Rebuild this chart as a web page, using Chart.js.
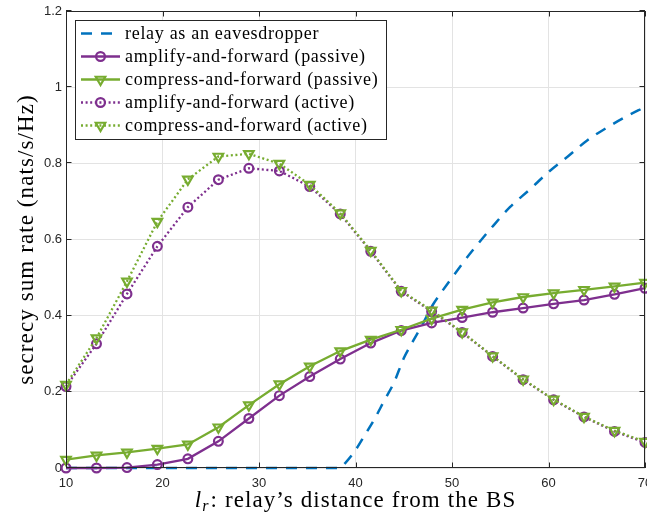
<!DOCTYPE html>
<html>
<head>
<meta charset="utf-8">
<script src="https://cdn.jsdelivr.net/npm/chart.js@4"></script>
<style>
  html, body { margin: 0; padding: 0; background: #ffffff; }
  #wrap { position: relative; width: 647px; height: 516px; }
</style>
</head>
<body>
<div id="wrap"><canvas id="c"></canvas></div>
<script>
// ---- data ----
const distances = [10, 13.16, 16.32, 19.47, 22.63, 25.79, 28.95, 32.11, 35.26, 38.42,
                   41.58, 44.74, 47.89, 51.05, 54.21, 57.37, 60.53, 63.68, 66.84, 70];
const afPassive = [0.000, 0.000, 0.001, 0.009, 0.024, 0.070, 0.130, 0.190, 0.240, 0.286,
                   0.328, 0.361, 0.381, 0.395, 0.409, 0.420, 0.431, 0.441, 0.456, 0.472];
const cfPassive = [0.022, 0.033, 0.041, 0.051, 0.062, 0.107, 0.165, 0.220, 0.267, 0.307,
                   0.337, 0.363, 0.392, 0.416, 0.435, 0.449, 0.459, 0.468, 0.477, 0.487];
const afActive  = [0.214, 0.326, 0.457, 0.582, 0.685, 0.757, 0.787, 0.780, 0.739, 0.667,
                   0.569, 0.464, 0.411, 0.356, 0.293, 0.232, 0.179, 0.134, 0.096, 0.067];
const cfActive  = [0.219, 0.341, 0.490, 0.647, 0.758, 0.818, 0.825, 0.799, 0.744, 0.669,
                   0.571, 0.465, 0.414, 0.357, 0.294, 0.233, 0.180, 0.135, 0.098, 0.069];
const eveX = [10, 20, 30, 38.3, 39, 40, 41, 42, 43, 44, 45, 46, 47, 48, 49, 50,
              52, 54, 56, 58, 60, 62, 64, 66, 68, 70];
const eveY = [0, 0, 0, 0, 0.015, 0.047, 0.088, 0.13, 0.178, 0.225, 0.288, 0.335, 0.38, 0.428, 0.465, 0.50,
              0.567, 0.628, 0.685, 0.73, 0.777, 0.818, 0.86, 0.893, 0.922, 0.948];
const seriesLabels = ['relay as an eavesdropper', 'amplify-and-forward (passive)',
                      'compress-and-forward (passive)', 'amplify-and-forward (active)',
                      'compress-and-forward (active)'];
const xTicks = [10, 20, 30, 40, 50, 60, 70];
const yTicks = [0, 0.2, 0.4, 0.6, 0.8, 1, 1.2];
const xTitleMain = 'l';
const xTitleSub = 'r';
const xTitleRest = ': relay\u2019s distance from the BS';
const yTitle = 'secrecy sum rate (nats/s/Hz)';

// ---- styling ----
const BLUE = '#0072BD', PURPLE = '#7E2F8E', GREEN = '#77AC30', AXIS = '#262626';
const pts = (xs, ys) => xs.map((x, i) => ({ x: x, y: ys[i] }));

const datasets = [
  { label: seriesLabels[0], data: pts(eveX, eveY), borderColor: BLUE, borderWidth: 2.5,
    borderDash: [11, 9], pointRadius: 0, cubicInterpolationMode: 'monotone', order: 5 },
  { label: seriesLabels[1], data: pts(distances, afPassive), borderColor: PURPLE, borderWidth: 2.3,
    pointStyle: 'circle', pointRadius: 4.4, pointBorderWidth: 2.2, pointBorderColor: PURPLE,
    pointBackgroundColor: 'rgba(0,0,0,0)', order: 4 },
  { label: seriesLabels[2], data: pts(distances, cfPassive), borderColor: GREEN, borderWidth: 2.3,
    pointStyle: 'triangle', pointRotation: 180, pointRadius: 5.5, pointBorderWidth: 2.2, pointBorderColor: GREEN,
    pointBackgroundColor: 'rgba(0,0,0,0)', order: 3 },
  { label: seriesLabels[3], data: pts(distances, afActive), borderColor: PURPLE, borderWidth: 2.3,
    borderDash: [2, 2.6], pointStyle: 'circle', pointRadius: 4.4, pointBorderWidth: 2.2, pointBorderColor: PURPLE,
    pointBackgroundColor: 'rgba(0,0,0,0)', order: 2 },
  { label: seriesLabels[4], data: pts(distances, cfActive), borderColor: GREEN, borderWidth: 2.3,
    borderDash: [2, 2.6], pointStyle: 'triangle', pointRotation: 180, pointRadius: 5.5, pointBorderWidth: 2.2,
    pointBorderColor: GREEN, pointBackgroundColor: 'rgba(0,0,0,0)', order: 1 }
];
datasets.forEach(d => { d.fill = false; d.tension = 0; d.clip = false; d.showLine = true; });

const SERIF = '"Liberation Serif", "Times New Roman", serif';

function drawMarker(ctx, style, x, y, r, color) {
  ctx.save();
  ctx.strokeStyle = color; ctx.lineWidth = 2.2; ctx.setLineDash([]);
  ctx.beginPath();
  if (style === 'circle') {
    ctx.arc(x, y, r, 0, Math.PI * 2);
  } else {
    for (let k = 0; k < 3; k++) {
      const a = Math.PI / 2 + k * 2 * Math.PI / 3;
      const px = x + r * Math.cos(a), py = y + r * Math.sin(a);
      if (k === 0) ctx.moveTo(px, py); else ctx.lineTo(px, py);
    }
    ctx.closePath();
  }
  ctx.stroke();
  ctx.restore();
}

const decorPlugin = {
  id: 'decor',
  afterDatasetsDraw(chart) {
    const { ctx, chartArea: a, scales } = chart;
    const xs = scales.x, ys = scales.y;
    ctx.save();
    ctx.strokeStyle = AXIS; ctx.lineWidth = 1; ctx.setLineDash([]);
    ctx.strokeRect(Math.round(a.left) + 0.5, Math.round(a.top) + 0.5,
                   Math.round(a.right - a.left) - 1, Math.round(a.bottom - a.top) - 1);
    const TL = 5.5;
    ctx.beginPath();
    xTicks.forEach(v => {
      const px = Math.round(xs.getPixelForValue(v)) + 0.5;
      ctx.moveTo(px, a.bottom); ctx.lineTo(px, a.bottom - TL);
      ctx.moveTo(px, a.top); ctx.lineTo(px, a.top + TL);
    });
    yTicks.forEach(v => {
      const py = Math.round(ys.getPixelForValue(v)) - 0.5;
      ctx.moveTo(a.left, py); ctx.lineTo(a.left + TL, py);
      ctx.moveTo(a.right, py); ctx.lineTo(a.right - TL, py);
    });
    ctx.stroke();

    // legend
    const lx = 75.5, ly = 20.5, lw = 311, lh = 119;
    ctx.fillStyle = '#ffffff';
    ctx.fillRect(lx, ly, lw, lh);
    ctx.strokeStyle = AXIS; ctx.lineWidth = 1;
    ctx.strokeRect(lx, ly, lw, lh);
    const rows = [33.5, 56.5, 79.5, 102.5, 125.5];
    chart.data.datasets.forEach((d, i) => {
      const y = rows[i];
      ctx.save();
      ctx.strokeStyle = d.borderColor; ctx.lineWidth = d.borderWidth;
      ctx.setLineDash(d.borderDash || []);
      ctx.beginPath(); ctx.moveTo(81, y); ctx.lineTo(120, y); ctx.stroke();
      ctx.restore();
      if (d.pointRadius > 0) drawMarker(ctx, d.pointStyle, 100.5, y, d.pointRadius, d.borderColor);
      ctx.fillStyle = '#000000';
      ctx.font = '18px ' + SERIF;
      ctx.letterSpacing = '0.7px';
      ctx.textAlign = 'left'; ctx.textBaseline = 'middle';
      ctx.fillText(d.label, 125, y + 0.5);
    });
    ctx.letterSpacing = '0px';

    ctx.fillStyle = '#000000';
    ctx.save();
    ctx.translate(27, (a.top + a.bottom) / 2);
    ctx.rotate(-Math.PI / 2);
    ctx.font = '23px ' + SERIF;
    ctx.letterSpacing = '1.1px';
    ctx.textAlign = 'center'; ctx.textBaseline = 'middle';
    ctx.fillText(yTitle, 0, 0);
    ctx.restore();

    ctx.save();
    ctx.letterSpacing = '1.1px';
    ctx.textBaseline = 'alphabetic';
    const fMain = 'italic 23px ' + SERIF, fSub = 'italic 16px ' + SERIF, fRest = '23px ' + SERIF;
    ctx.font = fMain; const w1 = ctx.measureText(xTitleMain).width;
    ctx.font = fSub; const w2 = ctx.measureText(xTitleSub).width;
    ctx.font = fRest; const w3 = ctx.measureText(xTitleRest).width;
    const total = w1 + w2 + w3 + 1;
    let x0 = (a.left + a.right) / 2 - total / 2;
    const base = 507;
    ctx.textAlign = 'left';
    ctx.font = fMain; ctx.fillText(xTitleMain, x0, base); x0 += w1;
    ctx.font = fSub; ctx.fillText(xTitleSub, x0, base + 4); x0 += w2 + 1;
    ctx.font = fRest; ctx.fillText(xTitleRest, x0, base);
    ctx.restore();
    ctx.restore();
  }
};

new Chart(document.getElementById('c'), {
  type: 'line',
  data: { datasets: datasets },
  options: {
    responsive: true,
    maintainAspectRatio: false,
    animation: false,
    devicePixelRatio: 1,
    layout: { padding: { top: 11, right: 2, left: 0, bottom: 0 }, autoPadding: false },
    plugins: { legend: { display: false }, tooltip: { enabled: false } },
    scales: {
      x: {
        type: 'linear', min: 10, max: 70,
        afterBuildTicks: s => { s.ticks = xTicks.map(v => ({ value: v })); },
        afterFit: s => { s.height = 48; s.paddingLeft = 0; s.paddingRight = 0; },
        grid: { color: '#e3e3e3', lineWidth: 1, drawTicks: false },
        border: { display: false },
        ticks: { color: AXIS, padding: 8, maxRotation: 0, autoSkip: false,
                 font: { family: '"Liberation Sans", Arial, sans-serif', size: 13 } }
      },
      y: {
        type: 'linear', min: 0, max: 1.2,
        afterBuildTicks: s => { s.ticks = yTicks.map(v => ({ value: v })); },
        afterFit: s => { s.width = 66; s.paddingTop = 0; s.paddingBottom = 0; },
        grid: { color: '#e3e3e3', lineWidth: 1, drawTicks: false },
        border: { display: false },
        ticks: { color: AXIS, padding: 4, autoSkip: false,
                 callback: v => String(Math.round(v * 10) / 10),
                 font: { family: '"Liberation Sans", Arial, sans-serif', size: 13 } }
      }
    }
  },
  plugins: [decorPlugin]
});
</script>
</body>
</html>
